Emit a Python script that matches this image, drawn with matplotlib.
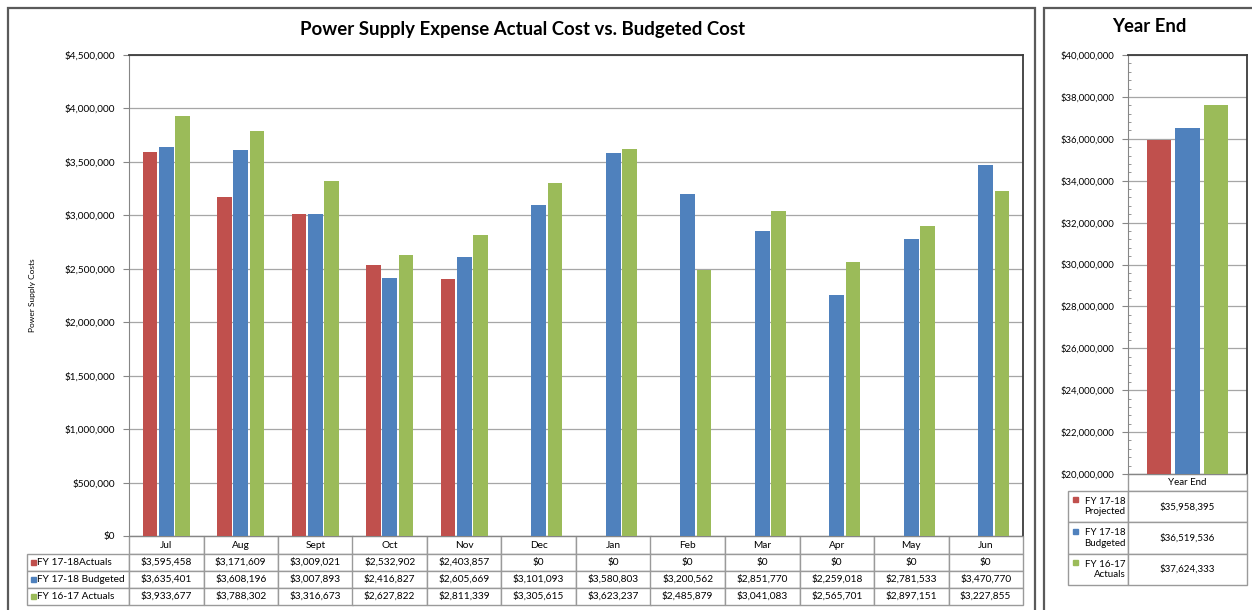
import numpy as np
import matplotlib.pyplot as plt
from matplotlib.ticker import FuncFormatter, MultipleLocator
from matplotlib.patches import Rectangle

plt.rcParams['font.family'] = ['Lato', 'DejaVu Sans']

months = ['Jul', 'Aug', 'Sept', 'Oct', 'Nov', 'Dec', 'Jan', 'Feb', 'Mar', 'Apr', 'May', 'Jun']
actual_1718 = [3595458, 3171609, 3009021, 2532902, 2403857, 0, 0, 0, 0, 0, 0, 0]
budget_1718 = [3635401, 3608196, 3007893, 2416827, 2605669, 3101093, 3580803, 3200562,
               2851770, 2259018, 2781533, 3470770]
actual_1617 = [3933677, 3788302, 3316673, 2627822, 2811339, 3305615, 3623237, 2485879,
               3041083, 2565701, 2897151, 3227855]
series_names = ['FY 17-18Actuals', 'FY 17-18 Budgeted', 'FY 16-17 Actuals']

ye_label = 'Year End'
ye_names = ['FY 17-18\nProjected', 'FY 17-18\nBudgeted', 'FY 16-17\nActuals']
ye_values = [35958395, 36519536, 37624333]

colors = ['#C0504D', '#4F81BD', '#9BBB59']
W, H = 1252, 610
money = lambda v, pos=None: f"${v:,.0f}"

fig = plt.figure(figsize=(W / 100, H / 100), dpi=100)


def rect(x0, y0, x1, y1):
    # pixel box (top-left origin) -> figure fractions
    return [x0 / W, (H - y1) / H, (x1 - x0) / W, (y1 - y0) / H]


def style_table(tb, head_h, row_h, fs):
    tb.auto_set_font_size(False)
    for (r, c), cell in tb.get_celld().items():
        cell.set_edgecolor('#9a9a9a')
        cell.set_linewidth(1.0)
        cell.get_text().set_fontsize(fs)
        cell.set_height(head_h if r == 0 else row_h)
        if r == 0 and c == 0:
            cell.set_visible(False)


# outer frames
fig.patches.append(Rectangle((8 / W, -0.02), (1035 - 8) / W, 1.02 - 8 / H,
                             transform=fig.transFigure, fill=False, ec='#5a5a5a', lw=1.6))
fig.patches.append(Rectangle((1044 / W, -0.02), (1256 - 1044) / W, 1.02 - 8 / H,
                             transform=fig.transFigure, fill=False, ec='#5a5a5a', lw=1.6))

# ---------------- main chart ----------------
ax = fig.add_axes(rect(129, 55, 1023, 536))
x = np.arange(len(months))
for i, vals in enumerate([actual_1718, budget_1718, actual_1617]):
    ax.bar(x + (i - 1) * 0.22, vals, width=0.195, color=colors[i], zorder=3)
ax.set_xlim(-0.5, len(months) - 0.5)
ax.set_ylim(0, 4500000)
ax.yaxis.set_major_locator(MultipleLocator(500000))
ax.yaxis.set_major_formatter(FuncFormatter(money))
ax.yaxis.grid(True, color='#a6a6a6', lw=0.9, zorder=0)
ax.set_xticks([])
ax.tick_params(axis='y', direction='out', length=4, color='#868686', labelsize=7.2, pad=6)
for s in ['left', 'bottom']:
    ax.spines[s].set_color('#868686')
for s in ['top', 'right']:
    ax.spines[s].set_color('#3c3c3c')
    ax.spines[s].set_linewidth(1.3)
fig.text(523 / W, 1 - 29 / H, 'Power Supply Expense Actual Cost vs. Budgeted Cost',
         fontsize=13.4, fontweight='bold', ha='center', va='center')
fig.text(32 / W, 1 - 295 / H, 'Power Supply Costs', rotation=90, fontsize=6,
         ha='center', va='center')

cell_text = [[series_names[0]] + [money(v) for v in actual_1718],
             [series_names[1]] + [money(v) for v in budget_1718],
             [series_names[2]] + [money(v) for v in actual_1617]]
lw_px = 1023 - 129
tb = ax.table(cellText=cell_text, colLabels=[''] + months,
              colWidths=[102 / lw_px] + [1 / 12] * 12, cellLoc='center',
              bbox=[(27 - 129) / lw_px, -(605 - 536) / 481, (1023 - 27) / lw_px, 69 / 481])
style_table(tb, 18, 17, 7.3)
for r in range(1, 4):
    cell = tb[r, 0]
    cell.get_text().set_ha('left')
    cell.PAD = 0.1
row_mid = [562.5, 579.5, 596.5]
for i in range(3):
    fig.patches.append(Rectangle((31 / W, (H - row_mid[i] - 2.5) / H), 5 / W, 5 / H,
                                 transform=fig.transFigure, color=colors[i]))

# ---------------- year end chart ----------------
ax2 = fig.add_axes(rect(1128, 55, 1247, 474))
for i, v in enumerate(ye_values):
    ax2.bar((i - 1) * 0.238, v, width=0.206, color=colors[i], zorder=3)
ax2.set_xlim(-0.5, 0.5)
ax2.set_ylim(20000000, 40000000)
ax2.yaxis.set_major_locator(MultipleLocator(2000000))
ax2.yaxis.set_minor_locator(MultipleLocator(400000))
ax2.yaxis.set_major_formatter(FuncFormatter(money))
ax2.yaxis.grid(True, color='#a6a6a6', lw=0.9, zorder=0)
ax2.set_xticks([])
ax2.tick_params(axis='y', which='major', direction='out', length=4, color='#868686',
                labelsize=6.8, pad=6)
ax2.tick_params(axis='y', which='minor', direction='in', length=2.5, color='#868686')
for s in ['left', 'bottom']:
    ax2.spines[s].set_color('#868686')
for s in ['top', 'right']:
    ax2.spines[s].set_color('#3c3c3c')
    ax2.spines[s].set_linewidth(1.3)
fig.text(1149 / W, 1 - 27 / H, 'Year End', fontsize=13.3, fontweight='bold',
         ha='center', va='center')

rw_px = 1247 - 1128
tb2 = ax2.table(cellText=[[ye_names[i], money(ye_values[i])] for i in range(3)],
                colLabels=['', ye_label], colWidths=[60 / rw_px, 1.0], cellLoc='center',
                bbox=[(1068 - 1128) / rw_px, -(585 - 474) / 419, (1247 - 1068) / rw_px, 111 / 419])
style_table(tb2, 17, 31, 7.0)
for r in range(1, 4):
    cell = tb2[r, 0]
    cell.get_text().set_ha('right')
    cell.get_text().set_multialignment('right')
    cell.PAD = 0.04
ye_mid = [499, 531, 562]
for i in range(3):
    fig.patches.append(Rectangle((1073 / W, (H - ye_mid[i] - 2.5) / H), 5 / W, 5 / H,
                                 transform=fig.transFigure, color=colors[i]))

fig.savefig('out.png', dpi=100)
